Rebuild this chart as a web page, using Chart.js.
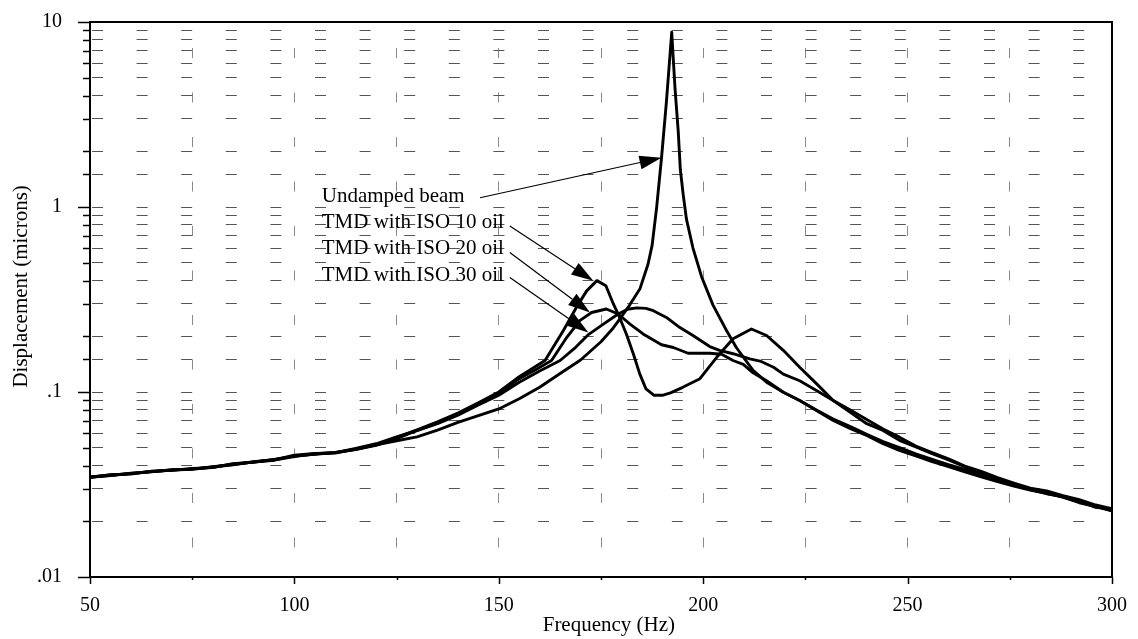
<!DOCTYPE html>
<html><head><meta charset="utf-8">
<script src="https://cdn.jsdelivr.net/npm/chart.js@4.4.1/dist/chart.umd.min.js"></script>
<style>html,body{margin:0;padding:0;background:#fff;}canvas{display:block;}</style>
</head><body>
<canvas id="c" width="1138" height="639"></canvas>
<script>
// ---------- data ----------
const seriesNames = ['Undamped beam','TMD with ISO 10 oil','TMD with ISO 20 oil','TMD with ISO 30 oil'];

const freqUndamped = [50,55,60,65,70,75,80,85,90,95,100,105,110,115,120,125,130,135,140,145,150,155,160,165,170,175,178,180,182,184.5,186.5,187.5,188.6,189.8,191,192.3,193.1,193.9,194.4,195.1,195.9,197.5,199.6,202.4,205.7,208.1,212.2,215.5,219.6,223.6,227.7,231.8,235.9,240,244,248,252,256,260,264,268,272,276,280,284,288,292,296,300];
const valUndamped = [0.0345,0.0356,0.0362,0.0372,0.0378,0.0384,0.0392,0.0408,0.0418,0.0428,0.0452,0.046,0.047,0.0488,0.0518,0.0545,0.0572,0.0622,0.0685,0.0745,0.081,0.092,0.106,0.126,0.149,0.187,0.222,0.255,0.295,0.36,0.49,0.62,0.99,1.84,3.7,8.8,4.4,2.55,1.6,1.17,0.86,0.6,0.42,0.295,0.215,0.174,0.131,0.113,0.0997,0.09,0.0795,0.0702,0.0636,0.0583,0.0526,0.0484,0.0452,0.042,0.0395,0.037,0.0348,0.0328,0.031,0.0295,0.0283,0.027,0.0255,0.0243,0.0228];

const freqIso10 = [50,55,60,65,70,75,80,85,90,95,100,105,110,115,120,125,130,135,140,145,150,155,158,161.3,165.8,169,171.5,174,176.2,178,179.2,181.2,182.9,184.5,186,188,190,192,195,199.2,203.3,207.3,211.8,215.5,219.6,223.6,227.7,231.8,235.9,240,244,248,252,256,260,264,268,272,276,280,284,288,292,296,300];
const valIso10 = [0.0348,0.0353,0.0363,0.0370,0.0380,0.0383,0.0395,0.0405,0.0420,0.0430,0.0455,0.0465,0.0468,0.0492,0.0520,0.0568,0.0625,0.0690,0.0770,0.0875,0.100,0.121,0.133,0.148,0.215,0.287,0.352,0.400,0.375,0.300,0.264,0.206,0.161,0.125,0.104,0.096,0.096,0.099,0.106,0.118,0.154,0.194,0.219,0.202,0.168,0.136,0.111,0.090,0.0778,0.0674,0.062,0.0548,0.0505,0.0464,0.043,0.0395,0.0362,0.0338,0.0318,0.0300,0.0285,0.0270,0.0252,0.0240,0.0228];

const freqIso20 = [50,55,60,65,70,75,80,85,90,95,100,105,110,115,120,125,130,135,140,145,150,155,159,162.9,166.6,169.8,172.7,176.3,179.2,182.1,185.3,189.8,192.7,196.3,201.6,204.5,207.3,209.8,212.2,215.5,219.6,223.6,227.7,231.8,236,240,244,248,252,256,260,264,268,272,276,280,284,288,292,296,300];
const valIso20 = [0.0346,0.0357,0.0360,0.0373,0.0377,0.0386,0.0390,0.0410,0.0417,0.0432,0.0450,0.0462,0.0472,0.0490,0.0515,0.0560,0.0620,0.0680,0.0760,0.0860,0.098,0.118,0.132,0.148,0.197,0.243,0.269,0.281,0.264,0.233,0.206,0.180,0.174,0.162,0.162,0.160,0.148,0.141,0.127,0.115,0.0997,0.090,0.080,0.0715,0.065,0.059,0.054,0.050,0.0463,0.0432,0.0405,0.0382,0.0357,0.0336,0.0315,0.0297,0.0282,0.0272,0.0258,0.0238,0.0233];

const freqIso30 = [50,55,60,65,70,75,80,85,90,95,100,105,110,115,120,125,130,135,140,145,150,155,160,165,168.5,172,175.5,179.2,181.5,183.7,186,187.8,191,194.3,197.5,201.6,204,207.3,211.4,213.9,217.2,219.6,223.6,227.7,231.8,236,240,244,248,252,256,260,264,268,272,276,280,284,288,292,296,300];
const valIso30 = [0.0347,0.0354,0.0364,0.0371,0.0379,0.0382,0.0393,0.0404,0.0419,0.0429,0.0448,0.0464,0.0470,0.0495,0.0525,0.0572,0.0618,0.0675,0.0750,0.0850,0.096,0.113,0.130,0.148,0.172,0.205,0.232,0.264,0.280,0.285,0.283,0.275,0.253,0.223,0.202,0.176,0.168,0.161,0.151,0.147,0.136,0.125,0.115,0.102,0.090,0.080,0.071,0.063,0.057,0.051,0.047,0.0435,0.0398,0.0372,0.0345,0.0322,0.0302,0.0292,0.0275,0.0262,0.0245,0.0234];

const xTickLabels = {50:'50',100:'100',150:'150',200:'200',250:'250',300:'300'};
const yTickLabels = {'-2':'.01','-1':'.1','0':'1','1':'10'};

// annotation anchors in data units (frequency, displacement)
const labelFreq = 106.7;
const labelVals = [1.146, 0.823, 0.594, 0.4246];
const arrowStarts = [[145.4,1.122],[152.7,0.79],[152.7,0.567],[152.7,0.416]];
const arrowTips = [[189.8,1.845],[173.1,0.399],[172.3,0.269],[171.9,0.21]];

// ---------- chart ----------
const FONT = '"Liberation Serif","Times New Roman",serif';
Chart.defaults.font.family = FONT;
Chart.defaults.color = '#000';

function toPts(fx, vy){ return fx.map((f,i)=>({x:f, y:vy[i]})); }
const seriesF = [freqUndamped, freqIso10, freqIso20, freqIso30];
const seriesV = [valUndamped, valIso10, valIso20, valIso30];

function decadeOf(v){ const l=Math.log10(v); const r=Math.round(l); return Math.abs(l-r)<1e-6 ? r : null; }

const overlay = {
  id:'overlay',
  afterDraw(chart){
    const {ctx, chartArea:a, scales:{x,y}} = chart;
    ctx.save();
    ctx.strokeStyle='#000'; ctx.fillStyle='#000'; ctx.lineWidth=1.5;
    y.ticks.forEach(t=>{
      const py = Math.round(y.getPixelForValue(t.value))+0.5;
      const major = decadeOf(t.value)!==null;
      ctx.beginPath(); ctx.moveTo(a.left-(major?12:7), py); ctx.lineTo(a.left+1, py); ctx.stroke();
    });
    x.ticks.forEach(t=>{
      const px = Math.round(x.getPixelForValue(t.value))+0.5;
      const major = t.value%50===0;
      ctx.beginPath(); ctx.moveTo(px, a.bottom); ctx.lineTo(px, a.bottom+(major?7:3)); ctx.stroke();
    });
    ctx.lineWidth=2;
    ctx.strokeRect(a.left, a.top, a.right-a.left, a.bottom-a.top);
    // annotations
    ctx.font = '21px '+FONT; ctx.textAlign='left'; ctx.textBaseline='middle';
    const lx = x.getPixelForValue(labelFreq);
    seriesNames.forEach((n,i)=>ctx.fillText(n, lx, y.getPixelForValue(labelVals[i])));
    ctx.lineWidth=1.2;
    arrowStarts.forEach((s,i)=>{
      const x0=x.getPixelForValue(s[0]), y0=y.getPixelForValue(s[1]);
      const x1=x.getPixelForValue(arrowTips[i][0]), y1=y.getPixelForValue(arrowTips[i][1]);
      const ang=Math.atan2(y1-y0,x1-x0), L=22, W=7;
      const bx=x1-L*Math.cos(ang), by=y1-L*Math.sin(ang);
      ctx.beginPath(); ctx.moveTo(x0,y0); ctx.lineTo(bx,by); ctx.stroke();
      ctx.beginPath(); ctx.moveTo(x1,y1);
      ctx.lineTo(bx-W*Math.sin(ang), by+W*Math.cos(ang));
      ctx.lineTo(bx+W*Math.sin(ang), by-W*Math.cos(ang));
      ctx.closePath(); ctx.fill();
    });
    ctx.restore();
  }
};

new Chart(document.getElementById('c'), {
  type:'line',
  data:{
    datasets: seriesNames.map((n,i)=>({
      label:n, data:toPts(seriesF[i], seriesV[i]),
      borderColor:'#000', borderWidth:2.9, pointRadius:0, tension:0,
      borderJoinStyle:'round', borderCapStyle:'round', fill:false
    }))
  },
  options:{
    responsive:false, animation:false, devicePixelRatio:1,
    layout:{padding:{top:22,right:26,bottom:0,left:0}},
    plugins:{legend:{display:false}, tooltip:{enabled:false}},
    scales:{
      x:{
        type:'linear', min:50, max:300, position:'bottom',
        afterFit(s){ s.height = 62; s.paddingLeft = 0; s.paddingRight = 0; },
        ticks:{stepSize:25, autoSkip:false, maxRotation:0, padding:17, font:{size:20},
          callback:v=> xTickLabels[v] || ''},
        grid:{drawTicks:false, lineWidth:1,
          color:c=> (c.tick && c.tick.value>50 && c.tick.value<300) ? '#8a8a8a' : 'rgba(0,0,0,0)'},
        border:{display:false, dash:[10,34.5], dashOffset:-26},
        title:{display:true, text:'   Frequency (Hz)', font:{size:21}, padding:{top:0,bottom:1}}
      },
      y:{
        type:'logarithmic', min:0.01, max:10, position:'left',
        afterFit(s){ s.width = 90; s.paddingTop = 0; s.paddingBottom = 0; },
        ticks:{autoSkip:false, padding:28, font:{size:20},
          callback:v=>{ const d=decadeOf(v); return d===null ? '' : (yTickLabels[String(d)]||''); }},
        grid:{drawTicks:false, lineWidth:1,
          color:c=> (c.tick && c.tick.value>0.0101 && c.tick.value<9.99) ? '#555' : 'rgba(0,0,0,0)'},
        border:{display:false, dash:[11,33.6], dashOffset:-2},
        title:{display:true, text:'     Displacement (microns)', font:{size:21}, padding:{top:9,bottom:0}}
      }
    }
  },
  plugins:[overlay]
});
</script>
</body></html>
